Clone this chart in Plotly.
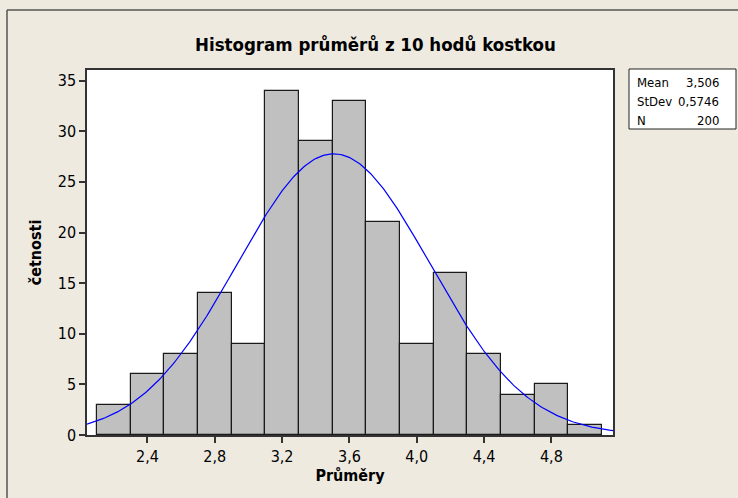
import numpy as np
import plotly.graph_objects as go

# ---- data ----
bin_centers = [2.2, 2.4, 2.6, 2.8, 3.0, 3.2, 3.4, 3.6, 3.8, 4.0, 4.2, 4.4, 4.6, 4.8, 5.0]
counts = [3, 6, 8, 14, 9, 34, 29, 33, 21, 9, 16, 8, 4, 5, 1]
bin_width = 0.2
stat_labels = ["Mean", "StDev", "N"]
stat_values = ["3,506", "0,5746", "200"]
fit_mean = 3.506
fit_sd = 0.5746
fit_n = 200
x_ticks = [2.4, 2.8, 3.2, 3.6, 4.0, 4.4, 4.8]
x_ticktext = ["2,4", "2,8", "3,2", "3,6", "4,0", "4,4", "4,8"]
y_ticks = [0, 5, 10, 15, 20, 25, 30, 35]

W, H = 738, 498
L, R, T, B = 87, 125, 70, 63
x_range = [2.041, 5.166]
y_range = [0, 36.05]

FONT = "Tahoma, 'DejaVu Sans Condensed', 'DejaVu Sans', sans-serif"
BG = "#EEEAE0"

# fitted normal curve (from the displayed Mean, StDev and N)
xc = np.linspace(x_range[0], x_range[1], 300)
yc = fit_n * bin_width / (fit_sd * np.sqrt(2 * np.pi)) * np.exp(-0.5 * ((xc - fit_mean) / fit_sd) ** 2)

fig = go.Figure()
fig.add_trace(go.Bar(x=bin_centers, y=counts, width=bin_width,
                     marker=dict(color="#C0C0C0", line=dict(color="#1a1a1a", width=1.2)),
                     hoverinfo="x+y"))
fig.add_trace(go.Scatter(x=xc, y=yc, mode="lines", line=dict(color="#0000FF", width=1.2),
                         hoverinfo="skip"))

pw = W - L - R
ph = H - T - B
def px(xp):
    return (xp - L) / pw
def py(yp):
    return 1 - (yp - T) / ph

shapes = [
    # outer frame lines
    dict(type="line", xref="paper", yref="paper", x0=px(7), x1=px(7), y0=py(10), y1=py(H + 5),
         line=dict(color="#555555", width=1.5)),
    dict(type="line", xref="paper", yref="paper", x0=px(7), x1=px(W + 5), y0=py(10), y1=py(10),
         line=dict(color="#555555", width=1.5)),
    # stats box
    dict(type="rect", xref="paper", yref="paper", x0=px(629), x1=px(736), y0=py(69), y1=py(129),
         line=dict(color="#222222", width=1), fillcolor="white"),
]

annotations = [
    dict(text="<b>Histogram průměrů z 10 hodů kostkou</b>", xref="paper", yref="paper",
         x=px(375), y=py(45), xanchor="center", yanchor="middle", showarrow=False,
         font=dict(size=18.5, color="black", family=FONT)),
]
rows_y = [83, 101.5, 120]
for lab, val, yy in zip(stat_labels, stat_values, rows_y):
    annotations.append(dict(text=lab, xref="paper", yref="paper", x=px(635), y=py(yy),
                            xanchor="left", yanchor="middle", showarrow=False,
                            font=dict(size=13, color="black", family=FONT)))
    annotations.append(dict(text=val, xref="paper", yref="paper", x=px(721), y=py(yy),
                            xanchor="right", yanchor="middle", showarrow=False,
                            font=dict(size=13, color="black", family=FONT)))

fig.update_layout(
    width=W, height=H,
    margin=dict(l=L, r=R, t=T, b=B, pad=0),
    paper_bgcolor=BG, plot_bgcolor="white",
    showlegend=False, bargap=0,
    font=dict(family=FONT, size=16, color="black"),
    shapes=shapes, annotations=annotations,
    xaxis=dict(range=x_range, tickvals=x_ticks, ticktext=x_ticktext,
               ticks="outside", ticklen=6, tickcolor="#333333", tickwidth=1.5,
               showgrid=False, zeroline=False, showline=True, mirror=True,
               linecolor="#333333", linewidth=1.5,
               title=dict(text="<b>Průměry</b>", font=dict(size=16), standoff=4),
               tickfont=dict(size=16)),
    yaxis=dict(range=y_range, tickvals=y_ticks,
               ticks="outside", ticklen=6, tickcolor="#333333", tickwidth=1.5,
               showgrid=False, zeroline=False, showline=True, mirror=True,
               linecolor="#333333", linewidth=1.5,
               title=dict(text="<b>četnosti</b>", font=dict(size=16), standoff=12),
               tickfont=dict(size=16)),
)

fig.write_html("out.html")
